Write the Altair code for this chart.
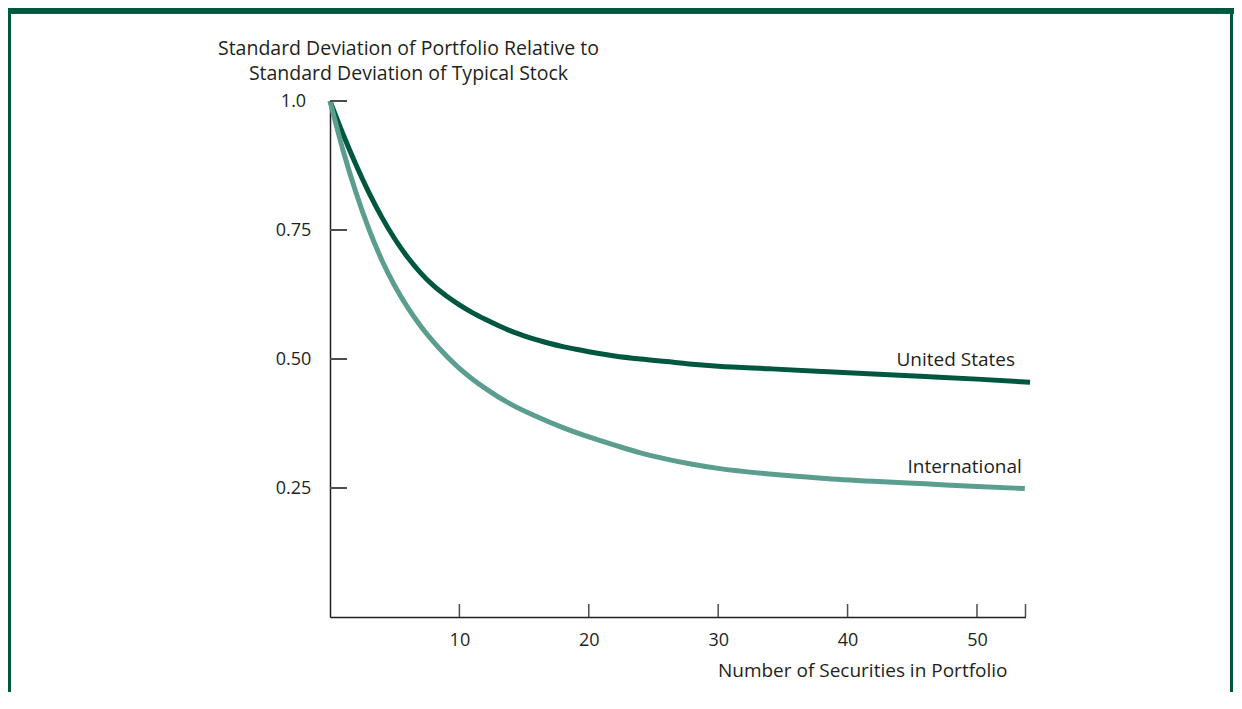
import altair as alt
import pandas as pd

# ---- data ----
us_x = [0, 1, 2, 3, 4, 5, 6, 7, 8, 9, 10, 11, 12, 13, 14, 15, 16, 17, 18, 19, 20,
        22, 24, 26, 28, 30, 34, 38, 42, 46, 50, 54.1]
us_y = [1.000, 0.936, 0.877, 0.823, 0.775, 0.733, 0.697, 0.667, 0.642, 0.622, 0.605, 0.590,
        0.577, 0.565, 0.554, 0.545, 0.537, 0.530, 0.524, 0.519, 0.514,
        0.506, 0.500, 0.495, 0.490, 0.486, 0.481, 0.476, 0.471, 0.466, 0.461, 0.455]
intl_x = [0, 1, 2, 3, 4, 5, 6, 7, 8, 9, 10, 12, 14, 16, 18, 20, 22, 24, 26, 28, 30,
          34, 38, 42, 46, 50, 53.7]
intl_y = [1.000, 0.905, 0.823, 0.752, 0.692, 0.642, 0.600, 0.564, 0.533, 0.506, 0.482, 0.443,
          0.412, 0.388, 0.367, 0.349, 0.333, 0.318, 0.306, 0.296, 0.288,
          0.277, 0.269, 0.263, 0.258, 0.253, 0.249]
series_names = ["United States", "International"]
x_ticks = [10, 20, 30, 40, 50]
y_ticks = [0.25, 0.50, 0.75, 1.0]
x_max = 53.75
y_title = ["Standard Deviation of Portfolio Relative to", "Standard Deviation of Typical Stock"]
x_title = "Number of Securities in Portfolio"

US_COLOR = "#00573f"
INTL_COLOR = "#5b9e8f"
TEXT = "#231f20"
FONT = "Open Sans"

df = pd.DataFrame(
    {"n": us_x + intl_x,
     "sd": us_y + intl_y,
     "series": [series_names[0]] * len(us_x) + [series_names[1]] * len(intl_x)}
)
labels = pd.DataFrame({"series": series_names,
                       "n": [us_x[-1], intl_x[-1]],
                       "sd": [us_y[-1], intl_y[-1]]})
xt = pd.DataFrame({"n": x_ticks + [x_max]})
yt = pd.DataFrame({"sd": y_ticks})

W, H = 695.5, 516
PL, PT = 322, 93
TOTAL_W, TOTAL_H = 1226, 684
PR = TOTAL_W - PL - W
PB = TOTAL_H - PT - H

xscale = alt.Scale(domain=[0, x_max], nice=False, zero=False)
yscale = alt.Scale(domain=[0, 1], nice=False)

xaxis = alt.Axis(values=x_ticks, ticks=False, grid=False, domainColor=TEXT, domainWidth=1.5,
                 labelFont=FONT, labelFontSize=18, labelColor=TEXT, labelPadding=14,
                 title=x_title, titleFont=FONT, titleFontSize=19, titleFontWeight="normal",
                 titleColor=TEXT, titleAnchor="end", titleAlign="right", titleX=677, titleY=53,
                 titleBaseline="middle")
yaxis = alt.Axis(values=y_ticks, ticks=False, grid=False, domainColor=TEXT, domainWidth=1.5,
                 labelFont=FONT, labelFontSize=18, labelColor=TEXT, labelPadding=37,
                 labelAlign="center", labelBaseline="middle",
                 labelExpr="datum.value == 1 ? '1.0' : format(datum.value, '.2f')",
                 title=y_title, titleFont=FONT, titleFontSize=19.5, titleFontWeight="normal",
                 titleColor=TEXT, titleAngle=0, titleAlign="center", titleBaseline="middle",
                 titleX=78, titleY=-53, titleLineHeight=25)

lines = alt.Chart(df).mark_line(strokeWidth=5, strokeCap="butt", interpolate="monotone").encode(
    x=alt.X("n:Q", scale=xscale, axis=xaxis),
    y=alt.Y("sd:Q", scale=yscale, axis=yaxis),
    color=alt.Color("series:N", scale=alt.Scale(domain=series_names, range=[US_COLOR, INTL_COLOR]),
                    legend=None),
    detail="series:N",
)

us_label = alt.Chart(labels).transform_filter(alt.datum.series == series_names[0]).mark_text(
    align="right", baseline="middle", dx=-15, dy=-22, font=FONT, fontSize=19, color=TEXT
).encode(x=alt.X("n:Q", scale=xscale), y=alt.Y("sd:Q", scale=yscale), text="series:N")

intl_label = alt.Chart(labels).transform_filter(alt.datum.series == series_names[1]).mark_text(
    align="right", baseline="middle", dx=-3, dy=-22, font=FONT, fontSize=19, color=TEXT
).encode(x=alt.X("n:Q", scale=xscale), y=alt.Y("sd:Q", scale=yscale), text="series:N")

ytick_marks = alt.Chart(yt).mark_rule(color="#4d4d4d", strokeWidth=2).encode(
    y=alt.Y("sd:Q", scale=yscale), x=alt.value(0), x2=alt.value(17))
xtick_marks = alt.Chart(xt).mark_rule(color="#4d4d4d", strokeWidth=1.5).encode(
    x=alt.X("n:Q", scale=xscale), y=alt.value(H - 13), y2=alt.value(H))

FRAME = "#00573f"
frame_top = alt.Chart(yt).mark_rect(color=FRAME).encode(
    x=alt.value(-PL), x2=alt.value(TOTAL_W - PL), y=alt.value(-PT), y2=alt.value(-PT + 5.5))
frame_left = alt.Chart(yt).mark_rect(color=FRAME).encode(
    x=alt.value(-PL), x2=alt.value(-PL + 3), y=alt.value(-PT), y2=alt.value(TOTAL_H - PT))
frame_right = alt.Chart(yt).mark_rect(color=FRAME).encode(
    x=alt.value(TOTAL_W - PL - 4), x2=alt.value(TOTAL_W - PL - 1), y=alt.value(-PT), y2=alt.value(TOTAL_H - PT))

chart = alt.layer(
    lines, ytick_marks, xtick_marks, us_label, intl_label, frame_top, frame_left, frame_right
).properties(
    width=W, height=H,
    autosize=alt.AutoSizeParams(type="none"),
    padding={"left": PL, "top": PT, "right": PR, "bottom": PB},
    background="white",
).configure_view(stroke=None)

chart.save("out.html", embed_options={"renderer": "svg", "actions": False})
